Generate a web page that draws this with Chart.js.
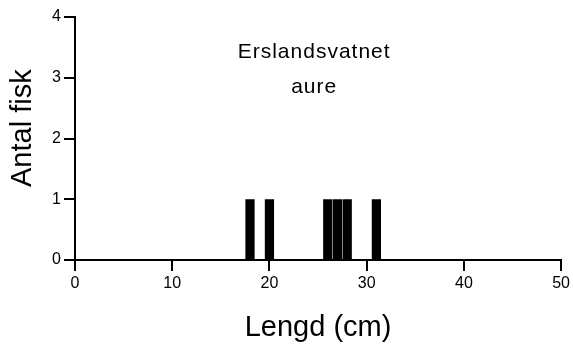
<!DOCTYPE html>
<html>
<head>
<meta charset="utf-8">
<script src="https://cdn.jsdelivr.net/npm/chart.js@4.4.1/dist/chart.umd.min.js"></script>
<style>
  html, body { margin: 0; padding: 0; background: #fff; }
  #wrap { width: 573px; height: 352px; }
</style>
</head>
<body>
<div id="wrap"><canvas id="myChart"></canvas></div>
<script>
// fish lengths (cm) and counts
const lengths = [18, 20, 26, 27, 28, 31];
const counts = [1, 1, 1, 1, 1, 1];
const titleLines = ['Erslandsvatnet', 'aure'];
const yTitle = 'Antal fisk';
const xTitle = 'Lengd (cm)';

const points = lengths.map((x, i) => ({ x: x, y: counts[i] }));

// title text inside the plot area, plus the y axis title
const extraText = {
    id: 'extraText',
    afterDraw(chart) {
        const ctx = chart.ctx;
        const xs = chart.scales.x;
        const ys = chart.scales.y;
        ctx.save();
        ctx.fillStyle = '#000';
        ctx.font = '21px "Liberation Sans", Arial, sans-serif';
        ctx.textAlign = 'center';
        ctx.textBaseline = 'alphabetic';
        ctx.letterSpacing = '1px';
        ctx.fillText(titleLines[0], xs.getPixelForValue(24.6), ys.getPixelForValue(3.33));
        ctx.fillText(titleLines[1], xs.getPixelForValue(24.6), ys.getPixelForValue(2.75));
        ctx.letterSpacing = '0px';
        ctx.font = '29px "Liberation Sans", Arial, sans-serif';
        ctx.textBaseline = 'middle';
        ctx.translate(ys.left + 23, ys.getPixelForValue(2.17));
        ctx.rotate(-Math.PI / 2);
        ctx.fillText(yTitle, 0, 0);
        ctx.restore();
    }
};

const data = {
    datasets: [{
        label: yTitle,
        backgroundColor: '#000',
        borderWidth: 0,
        barPercentage: 0.95,
        categoryPercentage: 1,
        data: points,
    }]
};

const config = {
    type: 'bar',
    data: data,
    options: {
        responsive: true,
        maintainAspectRatio: false,
        animation: false,
        layout: { padding: { left: 0, right: 7, top: 17, bottom: 0 } },
        plugins: { legend: { display: false }, tooltip: { enabled: false } },
        scales: {
            x: {
                type: 'linear',
                offset: false,
                min: 0,
                max: 50,
                ticks: { stepSize: 10, color: '#000', font: { family: 'Liberation Sans', size: 16 }, padding: 3 },
                grid: { offset: false, drawOnChartArea: false, drawTicks: true, tickLength: 11, color: '#000', lineWidth: 2 },
                border: { display: true, color: '#000', width: 2 },
                title: { display: true, text: xTitle, color: '#000', font: { family: 'Liberation Sans', size: 29 }, padding: { top: 0, bottom: 7 } },
                afterFit(scale) { scale.height = 92; }
            },
            y: {
                min: 0,
                max: 4,
                ticks: { stepSize: 1, color: '#000', font: { family: 'Liberation Sans', size: 16 }, padding: 3 },
                grid: { drawOnChartArea: false, drawTicks: true, tickLength: 11, color: '#000', lineWidth: 2 },
                border: { display: true, color: '#000', width: 2 },
                afterFit(scale) { scale.width = 75; }
            }
        }
    },
    plugins: [extraText]
};

const myChart = new Chart(document.getElementById('myChart'), config);
</script>
</body>
</html>
